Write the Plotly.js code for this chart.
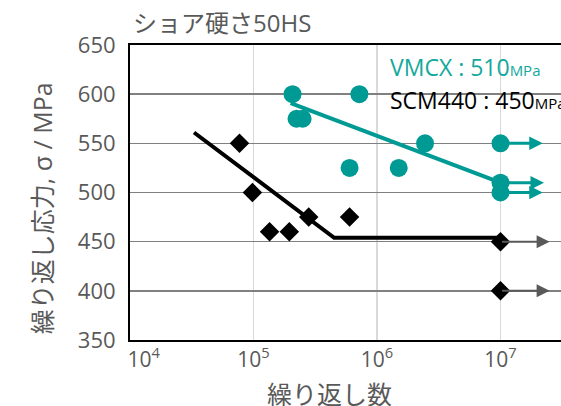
<!DOCTYPE html>
<html>
<head>
<meta charset="utf-8">
<script src="https://cdn.plot.ly/plotly-3.0.1.min.js"></script>
<style>html,body{margin:0;padding:0;background:#fff;}#chart{width:561px;height:406px;}</style>
</head>
<body>
<div id="chart"></div>
<script>
// ---- data ----
const vmcxCycles = [2.07e5, 7.2e5, 2.23e5, 2.5e5, 6.0e5, 1.5e6, 2.45e6, 1e7, 1e7, 1e7];
const vmcxStress = [600, 600, 575, 575, 525, 525, 550, 550, 510, 500];
const scmCycles = [7.7e4, 9.8e4, 1.35e5, 1.95e5, 2.8e5, 6.0e5, 1e7, 1e7];
const scmStress = [550, 500, 460, 460, 475, 475, 450, 400];
const vmcxFitCycles = [2.0e5, 1e7];
const vmcxFitStress = [591, 510];
const scmFitCycles = [3.3e4, 4.5e5, 1e7];
const scmFitStress = [561, 454, 454];
const vmcxRunoutStart = [1e7, 1e7, 1e7];
const vmcxRunoutStress = [550, 510, 500];
const vmcxRunoutEnd = [2.2e7, 2.25e7, 2.2e7];
const scmRunoutStart = [1e7, 1e7];
const scmRunoutStress = [450, 400];
const scmRunoutEnd = [2.5e7, 2.5e7];
const xTickVals = [1e4, 1e5, 1e6, 1e7];
const xTickText = ['\u00a0\u00a0\u00a0\u00a0\u00a010<sup>4</sup>', '10<sup>5</sup>', '10<sup>6</sup>', '10<sup>7</sup>'];
const yTickVals = [350, 400, 450, 500, 550, 600, 650];
const chartTitle = 'ショア硬さ50HS';
const xTitle = '繰り返し数';
const yTitle = '繰り返し応力, σ / MPa';
const vmcxLabel = 'VMCX : 510';
const scmLabel = 'SCM440 : 450';
const unitLabel = 'MPa';

const TEAL = '#009a94';
const LABEL_TEAL = '#13a89c';
const GRAY = '#595959';
const FONT = '"Open Sans", "Noto Sans CJK JP", sans-serif';
const CJK = '"Noto Sans CJK JP", "Open Sans", sans-serif';

const traces = [
  {x: vmcxFitCycles, y: vmcxFitStress, mode: 'lines', line: {color: TEAL, width: 4}, hoverinfo: 'skip'},
  {x: scmFitCycles, y: scmFitStress, mode: 'lines', line: {color: '#000', width: 4}, hoverinfo: 'skip'},
  {x: vmcxCycles, y: vmcxStress, mode: 'markers', marker: {symbol: 'circle', size: 18, color: TEAL}},
  {x: scmCycles, y: scmStress, mode: 'markers', marker: {symbol: 'diamond', size: 15, color: '#000'}}
];

const annotations = [];
function addRunouts(starts, ends, stress, color, width, size) {
  for (let i = 0; i < starts.length; i++) {
    annotations.push({
      x: Math.log10(ends[i]), y: stress[i], xref: 'x', yref: 'y',
      ax: Math.log10(starts[i]), ay: stress[i], axref: 'x', ayref: 'y',
      showarrow: true, arrowhead: 2, arrowcolor: color, arrowwidth: width, arrowsize: size,
      standoff: 0, startstandoff: 0, text: ''
    });
  }
}
addRunouts(vmcxRunoutStart, vmcxRunoutEnd, vmcxRunoutStress, TEAL, 3, 0.9);
addRunouts(scmRunoutStart, scmRunoutEnd, scmRunoutStress, GRAY, 2, 1.3);

annotations.push(
  {text: chartTitle, xref: 'paper', yref: 'paper', x: 0.213, y: 1.075, xanchor: 'center', yanchor: 'middle', showarrow: false, font: {family: FONT, size: 24, color: GRAY}},
  {text: xTitle, xref: 'paper', yref: 'paper', x: 0.463, y: -0.18, xanchor: 'center', yanchor: 'middle', showarrow: false, font: {family: CJK, size: 25, color: GRAY}},
  {text: yTitle, xref: 'paper', yref: 'paper', x: -0.204, y: 0.447, xanchor: 'center', yanchor: 'middle', textangle: -90, showarrow: false, font: {family: FONT, size: 25, color: GRAY}},
  {text: vmcxLabel + '<span style="font-size:15px">' + unitLabel + '</span>', xref: 'paper', yref: 'paper', x: 0.599, y: 0.925, xanchor: 'left', yanchor: 'middle', showarrow: false, font: {family: FONT, size: 23, color: LABEL_TEAL}},
  {text: scmLabel + '<span style="font-size:15px">' + unitLabel + '</span>', xref: 'paper', yref: 'paper', x: 0.599, y: 0.814, xanchor: 'left', yanchor: 'middle', showarrow: false, font: {family: FONT, size: 23, color: '#000'}}
);

const layout = {
  width: 561, height: 406,
  margin: {l: 130, r: 0, t: 45, b: 66},
  paper_bgcolor: '#fff', plot_bgcolor: '#fff',
  showlegend: false,
  font: {family: FONT, size: 20, color: GRAY},
  xaxis: {
    type: 'log', range: [4, 7.49], tickvals: xTickVals, ticktext: xTickText,
    showgrid: true, gridcolor: '#d9d9d9', gridwidth: 1.5,
    showline: true, linecolor: '#000', linewidth: 2, mirror: true,
    ticks: '', zeroline: false, tickfont: {family: FONT, size: 21, color: GRAY}
  },
  yaxis: {
    range: [350, 650], tickvals: yTickVals,
    showgrid: true, gridcolor: '#808080', gridwidth: 1.5,
    showline: true, linecolor: '#000', linewidth: 2,
    ticks: '', zeroline: false, ticklabelstandoff: 8,
    tickfont: {family: FONT, size: 22, color: GRAY}
  },
  shapes: [
    {type: 'rect', xref: 'paper', yref: 'paper', x0: 0.575, x1: 1.01, y0: 0.739, y1: 0.994, fillcolor: '#fff', line: {width: 0}, layer: 'between'}
  ],
  annotations: annotations
};

Plotly.newPlot('chart', traces, layout, {staticPlot: true, displayModeBar: false});
</script>
</body>
</html>
